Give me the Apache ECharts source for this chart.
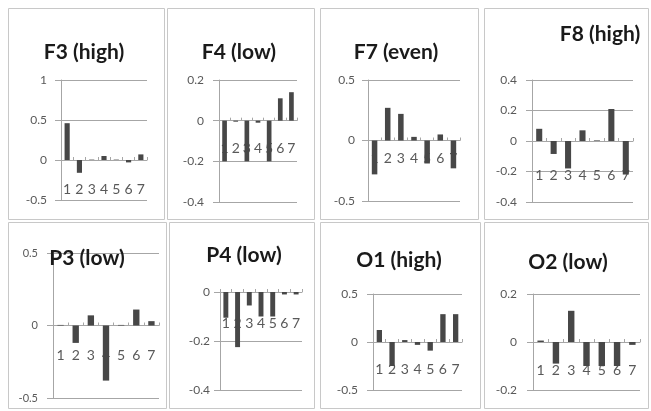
<!DOCTYPE html>
<html>
<head>
<meta charset="utf-8">
<script src="https://cdn.jsdelivr.net/npm/echarts@6/dist/echarts.min.js"></script>
<style>
html,body{margin:0;padding:0;background:#fff;}
#c{width:651px;height:411px;}
</style>
</head>
<body>
<div id="c"></div>
<script>
// ---- data ----
const categories = ['1','2','3','4','5','6','7'];
const titles = ['F3 (high)','F4 (low)','F7 (even)','F8 (high)','P3 (low)','P4 (low)','O1 (high)','O2 (low)'];
const F3 = [0.46, -0.16, 0.005, 0.05, 0.005, -0.03, 0.07];
const F4 = [-0.2, -0.005, -0.2, -0.01, -0.2, 0.11, 0.14];
const F7 = [-0.28, 0.27, 0.22, 0.03, -0.19, 0.05, -0.23];
const F8 = [0.08, -0.085, -0.18, 0.07, 0.004, 0.21, -0.22];
const P3 = [0.004, -0.12, 0.07, -0.38, 0.004, 0.11, 0.03];
const P4 = [-0.105, -0.225, -0.055, -0.1, -0.1, -0.01, -0.01];
const O1 = [0.125, -0.25, 0.02, -0.03, -0.09, 0.29, 0.29];
const O2 = [0.006, -0.09, 0.13, -0.1, -0.1, -0.1, -0.012];
const seriesData = [F3, F4, F7, F8, P3, P4, O1, O2];
const yMin = [-0.5, -0.4, -0.5, -0.4, -0.5, -0.4, -0.5, -0.2];
const yMax = [1, 0.2, 0.5, 0.4, 0.5, 0, 0.5, 0.2];
const yStep = [0.5, 0.2, 0.5, 0.2, 0.5, 0.2, 0.5, 0.2];

// ---- layout (pixels) ----
const grids = [
  {left:61, top:80, width:86, height:120},
  {left:219, top:80, width:78, height:122},
  {left:368, top:80, width:92, height:121},
  {left:532, top:80, width:101, height:122},
  {left:53, top:253, width:106, height:145},
  {left:220, top:292, width:82, height:98},
  {left:373, top:294, width:89, height:96},
  {left:533, top:294, width:107, height:96}
];
const labelMargin = [22, 21, 11, 27, 23, 24, 20, 21];
const yLabelMargin = [14, 15, 13, 15, 15, 10, 15, 16];
const titlePos = [[84,52],[239,52],[396,52],[600,34],[87,258],[244,255],[399,260],[568,262]];
const panels = [
  [8,8,156,211],[167,8,147,211],[320,8,158,211],[484,8,164,211],
  [8,222,158,186],[169,222,145,186],[320,222,160,186],[484,222,164,186]
];

const chart = echarts.init(document.getElementById('c'), null, {renderer:'canvas'});
const fontFam = 'Lato, "Open Sans", sans-serif';

// x axis sits at value 0: offset it up from the grid bottom by the scale position of 0
const zeroOffset = i => -grids[i].height * (0 - yMin[i]) / (yMax[i] - yMin[i]);

const option = {
  animation:false,
  backgroundColor:'#fff',
  grid: grids.map(g => Object.assign({containLabel:false}, g)),
  xAxis: grids.map((g,i) => ({
    type:'category', gridIndex:i, data:categories, position:'bottom',
    offset: zeroOffset(i), z:0,
    axisLine:{onZero:false, lineStyle:{color:'#a6a6a6', width:1}},
    axisTick:{show:true, inside:true, length:3, lineStyle:{color:'#a6a6a6'}},
    axisLabel:{margin:labelMargin[i], color:'#595959', fontSize:14, fontFamily:fontFam, interval:0},
    splitLine:{show:false}
  })),
  yAxis: grids.map((g,i) => ({
    type:'value', gridIndex:i, min:yMin[i], max:yMax[i], interval:yStep[i],
    axisLine:{show:true, lineStyle:{color:'#a6a6a6', width:1}},
    axisTick:{show:true, length:6, lineStyle:{color:'#a6a6a6'}},
    axisLabel:{margin:yLabelMargin[i], color:'#595959', fontSize:i===4?11:12, fontFamily:fontFam,
      formatter: v => { const r = Math.round(v*10)/10; return r === 0 ? '0' : String(r); }},
    splitLine:{show:true, lineStyle:{color:'#a6a6a6', width:1}}
  })),
  series: seriesData.map((d,i) => ({
    type:'bar', xAxisIndex:i, yAxisIndex:i, data:d, barWidth:'42%', z:3,
    itemStyle:{color:'#474747'}
  })),
  graphic: [
    ...panels.map(p => ({type:'rect', z:-1, silent:true,
      shape:{x:p[0]+0.5, y:p[1]+0.5, width:p[2], height:p[3]},
      style:{fill:'none', stroke:'#c8c8c8', lineWidth:1}})),
    ...titles.map((t,i) => ({type:'text', z:10, silent:true,
      x:titlePos[i][0], y:titlePos[i][1],
      style:{text:t, fill:'#1a1a1a', font:'bold 21px ' + fontFam, textAlign:'center', textVerticalAlign:'middle'}}))
  ]
};
chart.setOption(option);
</script>
</body>
</html>
